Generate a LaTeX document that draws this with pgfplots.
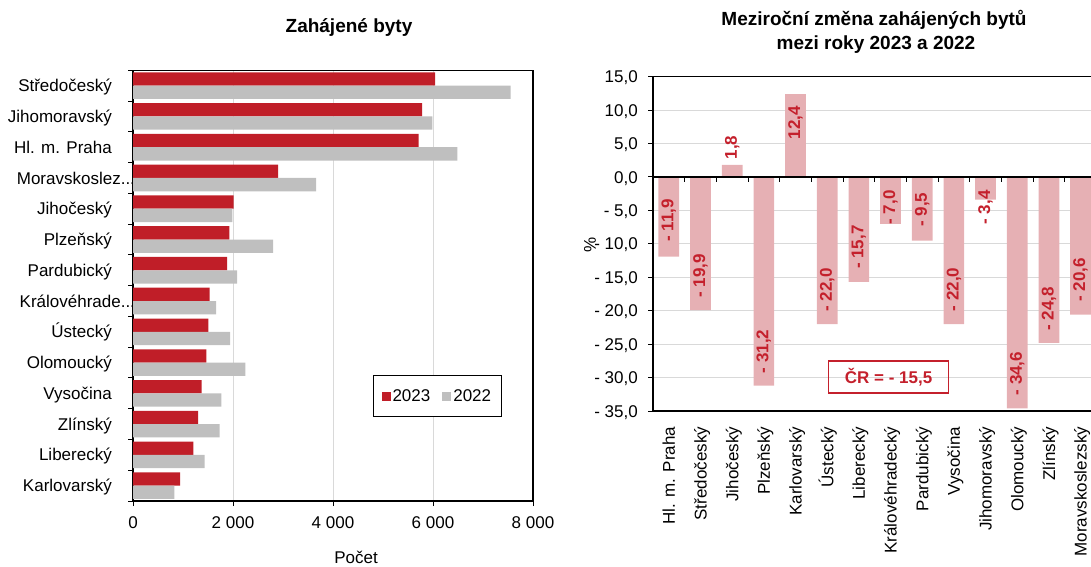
\documentclass[border=0pt]{standalone}
\usepackage{pgfplots}
\usepackage{pgfplotstable}
\pgfplotsset{compat=1.18}
\usepackage{fontspec}
\setmainfont{Liberation Sans}
\definecolor{barred}{RGB}{192,30,40}
\definecolor{bargray}{RGB}{191,191,191}
\definecolor{barpink}{RGB}{230,176,180}
\definecolor{labred}{RGB}{196,32,44}
\definecolor{gridgray}{RGB}{217,217,217}
\newcommand\f{\fontsize{17}{20}\selectfont}
\newcommand\tf{\fontsize{19}{22}\selectfont\bfseries}

\pgfplotstableread{
y a b
13 6040 7553
12 5780 5987
11 5713 6487
10 2900 3660
9 2013 1987
8 1927 2800
7 1880 2080
6 1533 1660
5 1507 1940
4 1467 2247
3 1373 1767
2 1300 1733
1 1207 1433
0 940 827
}\leftdata

\pgfplotstableread{
x v p l
0 -11.9 -6.5 {- 11,9}
1 -19.9 -14.8 {- 19,9}
2 1.8 4.4 {1,8}
3 -31.2 -26.1 {- 31,2}
4 12.4 8.15 {12,4}
5 -22.0 -16.9 {- 22,0}
6 -15.7 -10.5 {- 15,7}
7 -7.0 -4.56 {- 7,0}
8 -9.5 -4.9 {- 9,5}
9 -22.0 -16.8 {- 22,0}
10 -3.4 -4.56 {- 3,4}
11 -34.6 -29.4 {- 34,6}
12 -24.8 -19.7 {- 24,8}
13 -20.6 -15.4 {- 20,6}
}\rightdata

\begin{document}
\begin{tikzpicture}
\path[use as bounding box] (0pt,0pt) rectangle (1091pt,566pt);
\clip (0pt,0pt) rectangle (1091pt,566pt);

\node[anchor=base, font=\tf] at (349pt,533pt) {Zahájené byty};
\node[anchor=base, font=\tf] at (874pt,540pt) {Meziroční změna zahájených bytů};
\node[anchor=base, font=\tf] at (876pt,516pt) {mezi roky 2023 a 2022};
\node[anchor=base, font=\f] at (356pt,2.7pt) {Počet};
\node[rotate=90, font=\f] at (590pt,321pt) {\%};

% ---------------- left chart
\begin{axis}[
  at={(133pt,65pt)}, anchor=south west,
  scale only axis, width=400pt, height=430.7pt,
  xmin=0, xmax=8000, ymin=-0.5, ymax=13.5,
  xtick={0,2000,4000,6000,8000},
  xticklabels={0,2 000,4 000,6 000,8 000},
  ytick={0,...,13},
  yticklabels={Karlovarský,Liberecký,Zlínský,Vysočina,Olomoucký,Ústecký,{Královéhrade\rlap{...}\kern-9pt},Pardubický,Plzeňský,Jihočeský,{Moravskoslez\rlap{...}\kern-9pt},Hl. m. Praha,Jihomoravský,Středočeský},
  minor ytick={-0.5,0.5,...,13.5},
  major y tick style={draw=none},
  tick align=outside, tick pos=left,
  major tick length=5pt, minor tick length=5pt,
  xmajorgrids, major grid style={gridgray, line width=1pt},
  axis line style={black, line width=1.2pt},
  every tick/.style={black, line width=1pt},
  minor y tick style={black, line width=1pt},
  yticklabel style={anchor=east, inner xsep=16pt, inner ysep=0pt, text height=12.2pt, text depth=0pt, font=\f},
  xticklabel style={anchor=base, yshift=-22pt, font=\f},
  legend style={at={(0.6,0.2925)}, anchor=north west, legend columns=2, draw=black, line width=1pt, font=\f, inner xsep=8pt, inner ysep=12pt, /tikz/every even column/.append style={column sep=10pt}},
  legend image code/.code={\fill[#1, draw=none] (0pt,-4.5pt) rectangle (9pt,4.5pt);},
]
\addplot[xbar, bar width=13.3pt, bar shift=6.65pt, fill=barred, draw=none] table[x=a, y=y] {\leftdata};
\addplot[xbar, bar width=13.3pt, bar shift=-6.65pt, fill=bargray, draw=none] table[x=b, y=y] {\leftdata};
\legend{2023,2022}
\end{axis}

% ---------------- right chart
\begin{axis}[
  at={(653pt,155pt)}, anchor=south west,
  scale only axis, width=443.4pt, height=334.3pt,
  xmin=-0.5, xmax=13.5, ymin=-35, ymax=15,
  ytick={-35,-30,...,15},
  yticklabels={{- 35,0},{- 30,0},{- 25,0},{- 20,0},{- 15,0},{- 10,0},{- 5,0},{0,0},{5,0},{10,0},{15,0}},
  xtick={0,...,13},
  xticklabels={Hl. m. Praha,Středočeský,Jihočeský,Plzeňský,Karlovarský,Ústecký,Liberecký,Královéhradecký,Pardubický,Vysočina,Jihomoravský,Olomoucký,Zlínský,Moravskoslezský},
  major x tick style={draw=none},
  tick align=outside, tick pos=left,
  major tick length=5pt,
  every tick/.style={black, line width=1pt},
  ymajorgrids, major grid style={gridgray, line width=1pt},
  axis line style={black, line width=1.2pt},
  yticklabel style={anchor=east, inner xsep=10pt, inner ysep=0pt, text height=12.2pt, text depth=0pt, font=\f},
  xticklabel style={rotate=90, anchor=east, inner xsep=10.7pt, inner ysep=0pt, text height=12.2pt, text depth=0pt, font=\f},
  clip=false,
]
\addplot[ybar, bar width=20.7pt, fill=barpink, draw=none] table[x=x, y=v] {\rightdata};
\draw[black, line width=1.2pt] (axis cs:-0.5,0) -- (axis cs:13.5,0);
\pgfplotsinvokeforeach{0.5,1.5,...,12.5}{\draw[black, line width=1pt] (axis cs:#1,0) -- ++(0pt,-5pt);}
\addplot[draw=none, nodes near coords, point meta=explicit symbolic,
  every node near coord/.style={rotate=90, anchor=center, inner sep=0pt, font=\f\bfseries, text=labred}]
  table[x=x, y=p, meta=l] {\rightdata};
\node[draw=labred, line width=1.6pt, text=labred, font=\f\bfseries, minimum width=120pt, minimum height=32pt] at (axis cs:6.94,-29.9) {ČR = - 15,5};
\end{axis}
\end{tikzpicture}
\end{document}
